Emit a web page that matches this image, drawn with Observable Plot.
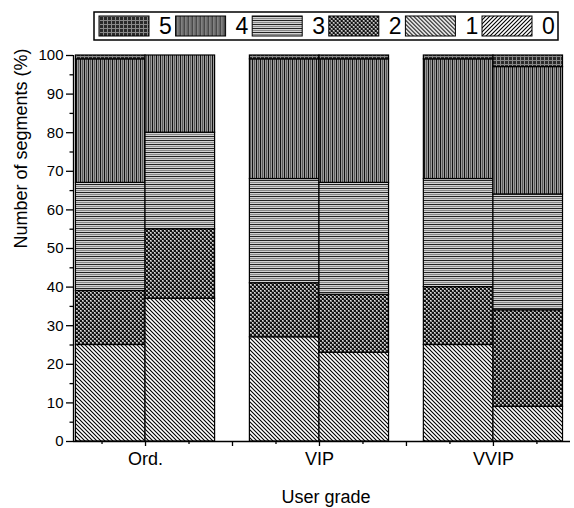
<!DOCTYPE html>
<html><head><meta charset="utf-8">
<script src="https://cdn.jsdelivr.net/npm/d3@7"></script>
<script src="https://cdn.jsdelivr.net/npm/@observablehq/plot@0.6"></script>
<style>
body{margin:0;background:#fff;font-family:Arial,"Liberation Sans",sans-serif}
#wrap{position:relative;width:574px;height:508px}
#legend{position:absolute;left:0;top:0}
</style></head><body>
<svg width="0" height="0" style="position:absolute;left:0;top:0">
<defs>
<pattern id="pat5" patternUnits="userSpaceOnUse" width="4" height="4">
  <rect width="4" height="4" fill="#2a2a2a"/>
  <rect x="0" y="0" width="4" height="1" fill="#8a8a8a"/>
  <rect x="0" y="0" width="1" height="4" fill="#8a8a8a"/>
</pattern>
<pattern id="pat4" patternUnits="userSpaceOnUse" width="4" height="4">
  <rect width="4" height="4" fill="#9c9c9c"/>
  <rect x="0" y="0" width="1" height="4" fill="#111"/>
  <rect x="2" y="0" width="1" height="4" fill="#5a5a5a"/>
</pattern>
<pattern id="pat3" patternUnits="userSpaceOnUse" width="4" height="4">
  <rect width="4" height="4" fill="#d2d2d2"/>
  <rect x="0" y="0" width="4" height="1" fill="#222"/>
  <rect x="0" y="2" width="4" height="1" fill="#8a8a8a"/>
</pattern>
<pattern id="pat2" patternUnits="userSpaceOnUse" width="4" height="4">
  <rect width="4" height="4" fill="#8e8e8e"/>
  <rect x="0" y="0" width="2" height="2" fill="#111"/>
  <rect x="2" y="2" width="2" height="2" fill="#111"/>
  <rect x="2" y="0" width="1" height="1" fill="#ddd"/>
  <rect x="0" y="2" width="1" height="1" fill="#ddd"/>
</pattern>
<pattern id="pat1" patternUnits="userSpaceOnUse" width="4" height="4">
  <rect width="4" height="4" fill="#fff"/>
  <path d="M-1,-1L5,5M-1,3L1,5M3,-1L5,1" stroke="#000" stroke-width="1.1"/>
</pattern>
<pattern id="pat0" patternUnits="userSpaceOnUse" width="4" height="4">
  <rect width="4" height="4" fill="#fff"/>
  <path d="M-1,5L5,-1M-1,1L1,-1M3,5L5,3" stroke="#000" stroke-width="1.1"/>
</pattern>
</defs>
</svg>
<div id="wrap"></div>
<script>
// ---- data ----
const groups = ["Ord.", "VIP", "VVIP"];
const groupPos = [1, 2, 3];
const barSlots = [0, 1]; // two bars per user grade
const segments = ["0", "1", "2", "3", "4", "5"];
// values per bar: Ord.-a, Ord.-b, VIP-a, VIP-b, VVIP-a, VVIP-b
const seg0 = [0, 0, 0, 0, 0, 0];
const seg1 = [25, 37, 27, 23, 25, 9];
const seg2 = [14, 18, 14, 15, 15, 25];
const seg3 = [28, 25, 27, 29, 28, 30];
const seg4 = [32, 20, 31, 32, 31, 33];
const seg5 = [1, 0, 1, 1, 1, 3];
const legendOrder = ["5", "4", "3", "2", "1", "0"];
const yTicks = [0, 10, 20, 30, 40, 50, 60, 70, 80, 90, 100];
const yMinor = [5, 15, 25, 35, 45, 55, 65, 75, 85, 95];
const xBetween = [1.5, 2.5];
const xMinor = [0.75, 1.25, 1.75, 2.25, 2.75, 3.25];
const yTitle = "Number of segments (%)";
const xTitle = "User grade";

// ---- build table ----
const series = [seg0, seg1, seg2, seg3, seg4, seg5];
const table = [];
groupPos.forEach((g, gi) => {
  barSlots.forEach((b) => {
    const k = gi * barSlots.length + b;
    let acc = 0;
    series.forEach((s, si) => {
      const v = s[k];
      if (v > 0) table.push({group: groups[gi], pos: g, slot: b, seg: segments[si], y1: acc, y2: acc + v});
      acc += v;
    });
  });
});

const BAR_W = 0.4;
const X_DOMAIN = [0.586, 3.443];
const font = "Arial, 'Liberation Sans', sans-serif";

const plot = Plot.plot({
  width: 574, height: 508,
  marginLeft: 73, marginRight: 4, marginTop: 55, marginBottom: 67,
  style: {fontFamily: font, fontSize: "15px", color: "#000", background: "#fff"},
  x: {domain: X_DOMAIN, axis: null},
  y: {domain: [0, 100], axis: null},
  color: {type: "ordinal", domain: segments, range: segments.map(s => `url(#pat${s})`)},
  marks: [
    Plot.rectY(table, {
      x1: d => d.pos + (d.slot - 1) * BAR_W,
      x2: d => d.pos + d.slot * BAR_W,
      y1: "y1", y2: "y2", fill: "seg", stroke: "#000", strokeWidth: 1.2
    }),
    Plot.ruleY([0], {stroke: "#000", strokeWidth: 1.3}),
    Plot.ruleX([X_DOMAIN[0]], {stroke: "#000", strokeWidth: 1.3}),
    Plot.axisY(yTicks, {tickSize: 7, tickPadding: 3, fontSize: 15, label: null, strokeWidth: 1.3}),
    Plot.axisY(yMinor, {tickSize: 3.5, fill: null, label: null, strokeWidth: 1.3}),
    Plot.axisX(groupPos, {tickSize: 5, tickPadding: 6, fontSize: 18, tickFormat: v => groups[v - 1],
      label: null, strokeWidth: 1.3}),
    Plot.axisX(xBetween, {tickSize: 5, fill: null, label: null, strokeWidth: 1.3}),
    Plot.axisX(xMinor, {tickSize: 3, fill: null, label: null, strokeWidth: 1.3}),
    Plot.text([yTitle], {frameAnchor: "left", dx: -52, rotate: -90, fontSize: 18, text: d => d}),
    Plot.text([xTitle], {frameAnchor: "bottom", dx: 4, dy: 61, fontSize: 18, text: d => d})
  ]
});
document.getElementById("wrap").appendChild(plot);

// ---- legend ----
const leg = d3.select("#wrap").append("svg").attr("id", "legend")
  .attr("width", 574).attr("height", 50);
leg.append("rect").attr("x", 94).attr("y", 12).attr("width", 464).attr("height", 28)
  .attr("fill", "#fff").attr("stroke", "#000").attr("stroke-width", 1.5);
const items = leg.selectAll("g.item").data(legendOrder).join("g").attr("class", "item")
  .attr("transform", (d, i) => `translate(${99 + i * 76.6},16)`);
items.append("rect").attr("width", 50).attr("height", 20)
  .attr("fill", d => `url(#pat${d})`).attr("stroke", "#000").attr("stroke-width", 1);
items.append("text").attr("x", 60).attr("y", 10).attr("dy", "0.36em")
  .attr("font-family", font).attr("font-size", 23).text(d => d);
</script>
</body></html>
